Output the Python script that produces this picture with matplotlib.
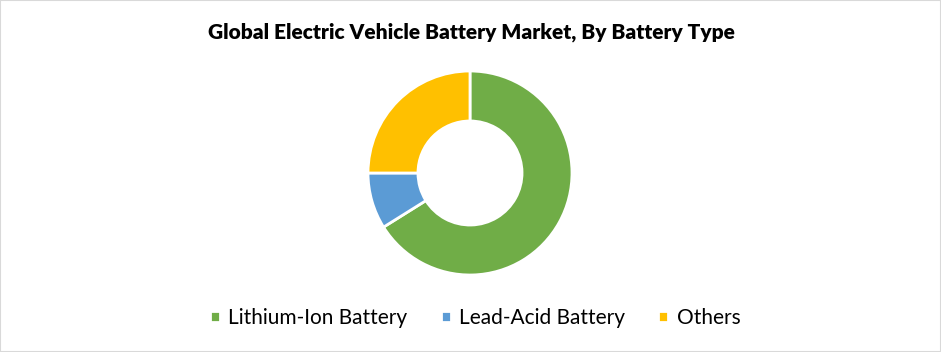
import matplotlib.pyplot as plt
from matplotlib.patches import Rectangle

categories = ["Lithium-Ion Battery", "Lead-Acid Battery", "Others"]
shares = [66.1, 8.9, 25.0]
colors = ["#70AD47", "#5B9BD5", "#FFC000"]
title = "Global Electric Vehicle Battery Market, By Battery Type"

plt.rcParams['font.family'] = ['Lato', 'DejaVu Sans']

fig = plt.figure(figsize=(9.41, 3.52), dpi=100)
fig.patches.append(Rectangle((0, 0), 1, 1, transform=fig.transFigure,
                             fill=False, edgecolor="#D9D9D9", linewidth=1.5))

# donut, center around (470, 173) px, outer radius ~102 px
ax = fig.add_axes([(470 - 102) / 941, 1 - (173 + 102) / 352, 204 / 941, 204 / 352])
wedges, _ = ax.pie(shares, colors=colors, startangle=90, counterclock=False,
                   wedgeprops=dict(width=0.49, edgecolor="white", linewidth=2))
ax.set_xlim(-1, 1)
ax.set_ylim(-1, 1)
ax.set_aspect("equal")

fig.text(471 / 941, 1 - 32 / 352, title, ha="center", va="center",
         fontsize=15.0, fontweight="heavy", color="#000000")

fig.legend(wedges, categories, loc="center", bbox_to_anchor=(475 / 941, 1 - 318 / 352),
           ncol=3, frameon=False, fontsize=15, handlelength=0.48, handleheight=0.48,
           handletextpad=0.4, columnspacing=1.6)

fig.savefig("out.png", dpi=100)
